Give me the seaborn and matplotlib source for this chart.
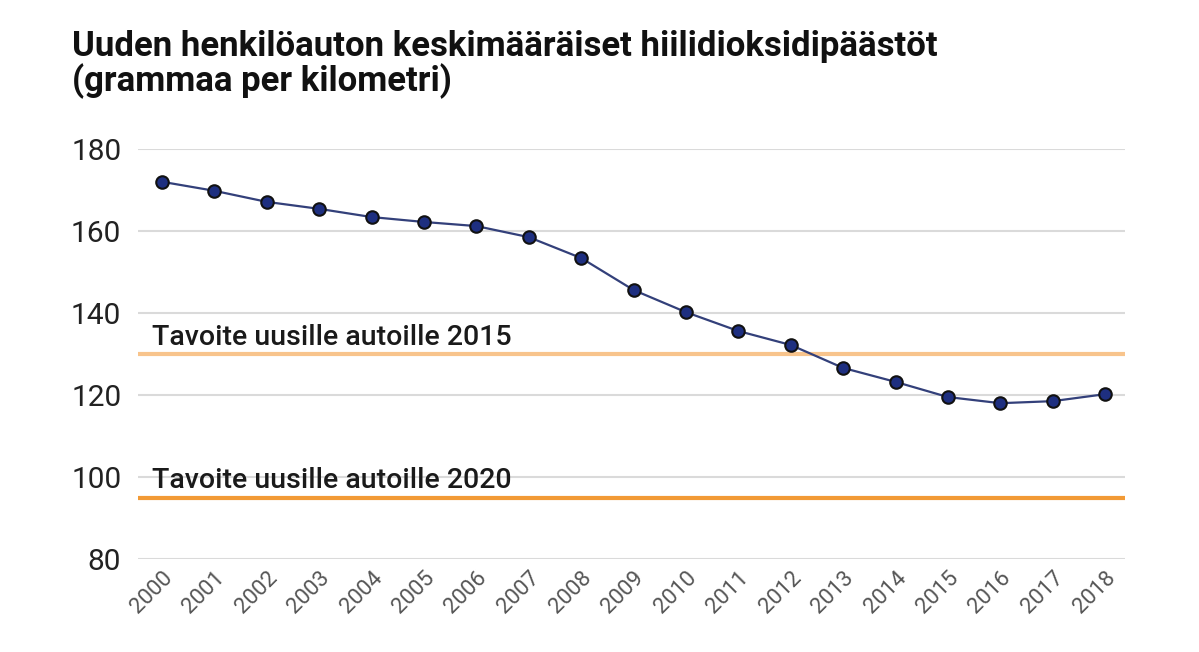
import matplotlib
matplotlib.use("Agg")
import matplotlib.pyplot as plt
import seaborn as sns
import pandas as pd

years = list(range(2000, 2019))
emissions = [172.0, 169.8, 167.1, 165.4, 163.4, 162.2, 161.2, 158.5, 153.4, 145.6,
             140.2, 135.6, 132.2, 126.6, 123.2, 119.5, 118.0, 118.5, 120.2]
target_values = [130, 95]
target_labels = ["Tavoite uusille autoille 2015", "Tavoite uusille autoille 2020"]
target_colors = ["#F8C48C", "#F29A35"]
y_ticks = [80, 100, 120, 140, 160, 180]
title = "Uuden henkilöauton keskimääräiset hiilidioksidipäästöt\n(grammaa per kilometri)"

sns.set_theme(style="white")
plt.rcParams['font.family'] = ['Roboto', 'DejaVu Sans']

df = pd.DataFrame({"year": years, "value": emissions})

fig = plt.figure(figsize=(11.99, 6.52), dpi=100)
ax = fig.add_axes([138/1199, 1-559/652, (1125-138)/1199, (559-149)/652])

for yt in y_ticks:
    ax.axhline(yt, color="#DADADA", lw=1.5, zorder=0)

for v, lab, c in zip(target_values, target_labels, target_colors):
    ax.axhline(v, color=c, lw=3, zorder=1)
    ax.text(1999.8, v + 2.2, lab, fontsize=20.5, fontweight="medium",
            color="#1a1a1a", va="baseline", ha="left")

sns.lineplot(data=df, x="year", y="value", ax=ax, color="#33407A", lw=1.6,
             marker="o", markersize=9, markerfacecolor="#1E2F80",
             markeredgecolor="#111111", markeredgewidth=1.5, zorder=3, clip_on=False)

ax.set_xlim(1999.54, 2018.38)
ax.set_ylim(80, 180)
ax.set_yticks(y_ticks)
ax.set_yticklabels([str(t) for t in y_ticks], fontsize=21.5, color="#222222")
ax.set_xticks(years)
ax.set_xticklabels([str(y) for y in years], rotation=45, ha="right",
                   rotation_mode="anchor", fontsize=16, color="#555555")
ax.tick_params(axis="y", length=0, pad=12)
ax.tick_params(axis="x", length=0, pad=6)
ax.set_xlabel("")
ax.set_ylabel("")
for s in ax.spines.values():
    s.set_visible(False)

fig.text(72/1199, 1-30/652, title, fontsize=25, fontweight="bold", color="#111111",
         ha="left", va="top", linespacing=1.0)

fig.savefig("out.png", dpi=100, facecolor="white")
